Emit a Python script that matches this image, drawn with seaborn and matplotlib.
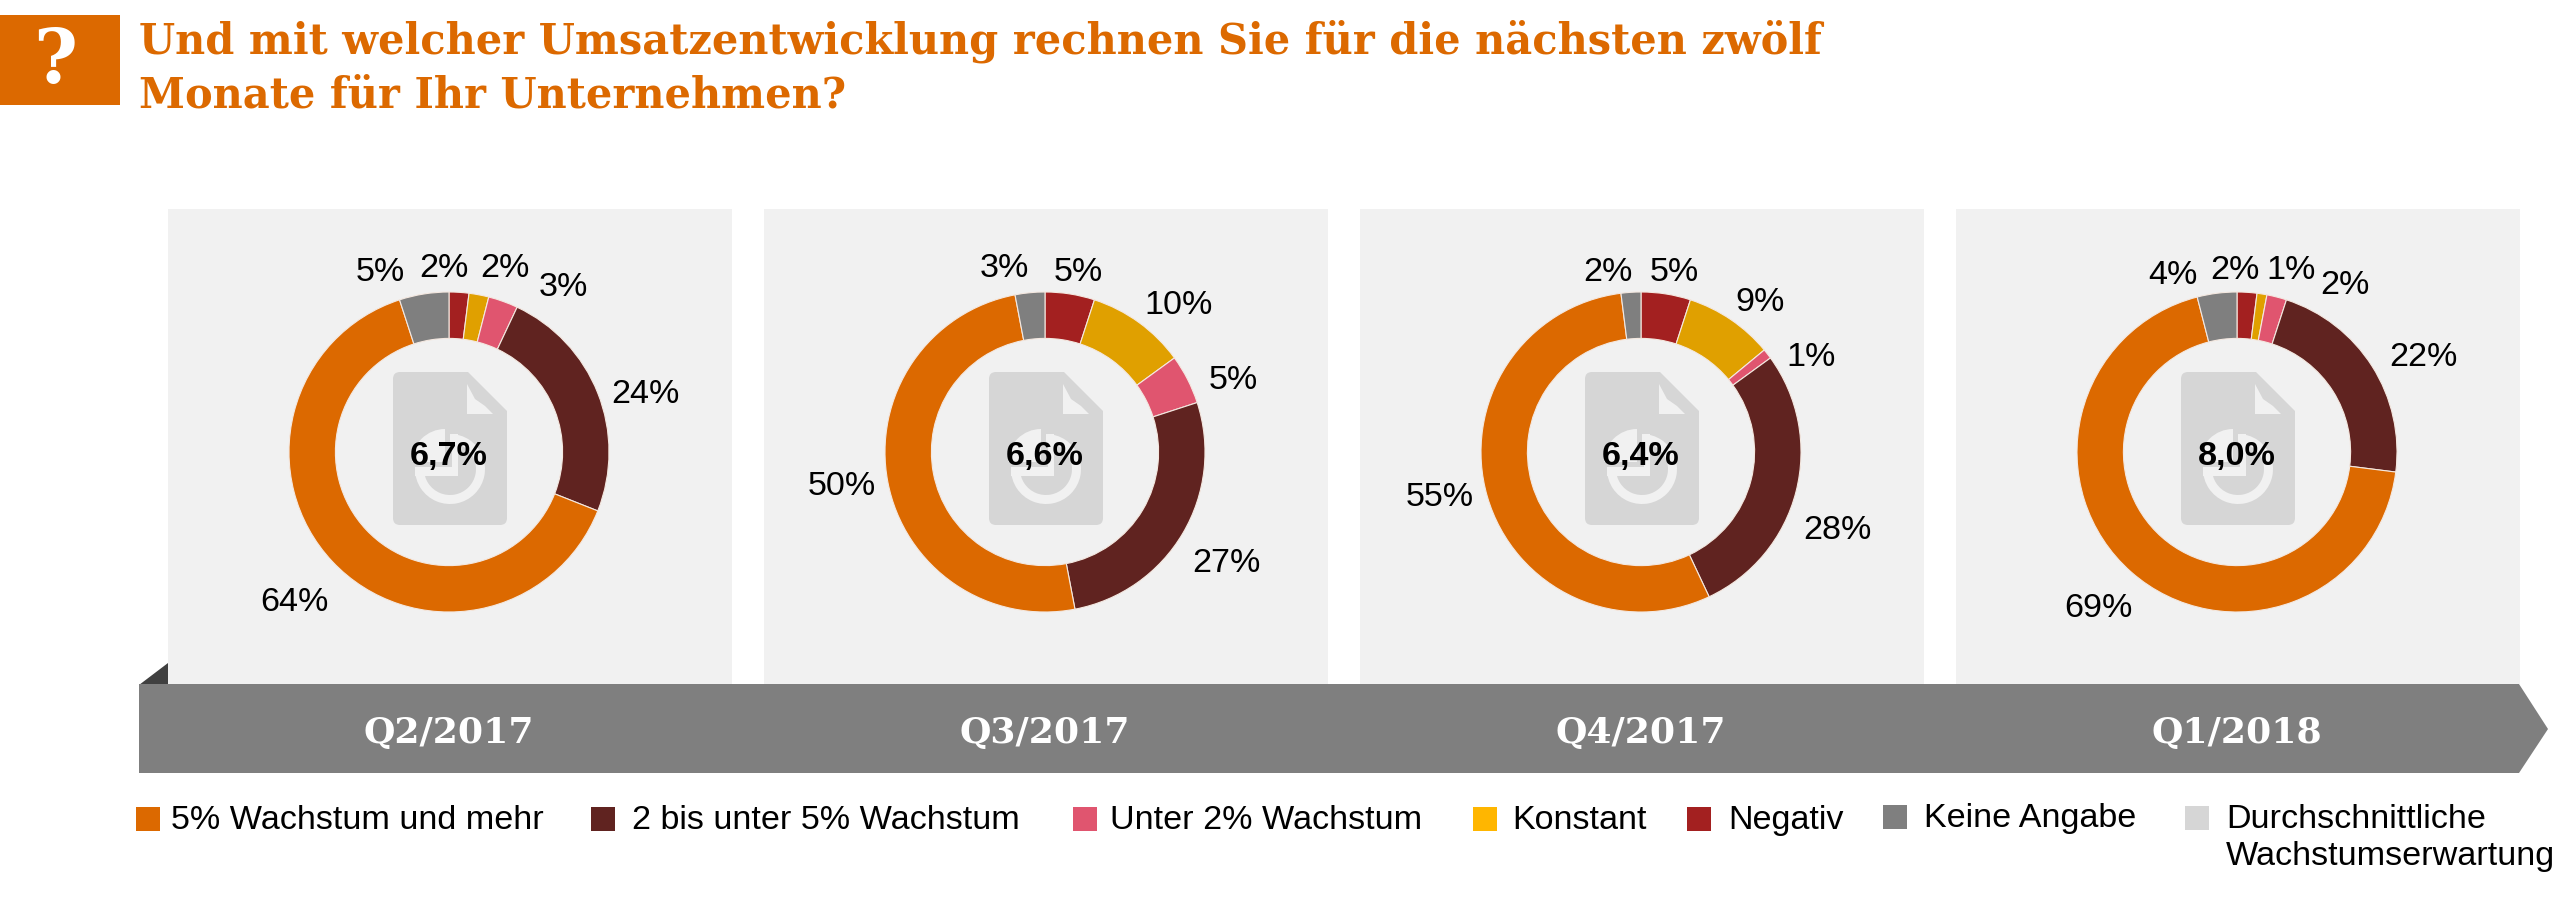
import matplotlib
matplotlib.use('Agg')
import matplotlib.pyplot as plt
import seaborn as sns
from matplotlib.patches import Polygon, Rectangle, Wedge, FancyBboxPatch

categories = ['Negativ', 'Konstant', 'Unter 2% Wachstum', '2 bis unter 5% Wachstum',
              '5% Wachstum und mehr', 'Keine Angabe']
q2_2017 = [2, 2, 3, 24, 64, 5]
q3_2017 = [5, 10, 5, 27, 50, 3]
q4_2017 = [5, 9, 1, 28, 55, 2]
q1_2018 = [2, 1, 2, 22, 69, 4]
quarters = ['Q2/2017', 'Q3/2017', 'Q4/2017', 'Q1/2018']
averages = ['6,7%', '6,6%', '6,4%', '8,0%']
legend_labels = ['5% Wachstum und mehr', '2 bis unter 5% Wachstum', 'Unter 2% Wachstum', 'Konstant',
                 'Negativ', 'Keine Angabe', 'Durchschnittliche\nWachstumserwartung']

sns.set_theme(style='white')
plt.rcParams['font.family'] = ['Liberation Sans', 'DejaVu Sans']

ORANGE = '#DC6900'
pie_colors = sns.color_palette(['#A32020', '#E0A000', '#E0556F', '#602320', ORANGE, '#7F7F7F'])
legend_colors = [ORANGE, '#602320', '#E0556F', '#FFB600', '#A32020', '#7F7F7F', '#D6D6D6']
PANEL = '#F1F1F1'
DOC = '#D6D6D6'

W, H = 2560, 904
fig = plt.figure(figsize=(W / 100, H / 100), dpi=100, facecolor='white')
bg = fig.add_axes([0, 0, 1, 1])
bg.set_xlim(0, W)
bg.set_ylim(H, 0)
bg.axis('off')

# header
bg.add_patch(Rectangle((0, 16), 120, 90, color=ORANGE, lw=0))
bg.text(55, 62, '?', color='white', fontsize=54, fontweight='bold', family='DejaVu Serif',
        ha='center', va='center')
bg.text(139, 41, 'Und mit welcher Umsatzentwicklung rechnen Sie für die nächsten zwölf',
        color=ORANGE, fontsize=29.9, fontweight='bold', family='DejaVu Serif', va='center')
bg.text(139, 95, 'Monate für Ihr Unternehmen?',
        color=ORANGE, fontsize=29.9, fontweight='bold', family='DejaVu Serif', va='center')

# timeline arrow
bg.add_patch(Polygon([(139, 686), (168, 664), (168, 686)], color='#404040', lw=0, zorder=1))
bg.add_patch(Polygon([(139, 685), (2519, 685), (2548, 730), (2519, 774), (139, 774)],
                     color='#7F7F7F', lw=0, zorder=3))

panel_left = [168, 764, 1360, 1956]
centers = [449, 1045, 1641, 2237]
cy = 453
R = 160


def draw_icon(cx):
    bg.add_patch(FancyBboxPatch((cx - 56, cy - 80), 114, 153, boxstyle='round,pad=0,rounding_size=7',
                                color=DOC, lw=0, zorder=2))
    bg.add_patch(Polygon([(cx + 18, cy - 81), (cx + 60, cy - 81), (cx + 60, cy - 39)], color=PANEL, lw=0, zorder=2))
    bg.add_patch(Polygon([(cx + 18, cy - 68), (cx + 26, cy - 53), (cx + 36, cy - 46), (cx + 44, cy - 38),
                          (cx + 18, cy - 38)], color=PANEL, lw=0, zorder=2))
    # small pie symbol on the page
    bg.add_patch(Wedge((cx + 1, cy + 17), 35, 270, 180, width=9, color=PANEL, lw=0, zorder=2))
    bg.add_patch(Rectangle((cx - 34, cy + 15), 43, 9, color=PANEL, lw=0, zorder=2))
    bg.add_patch(Rectangle((cx + 3, cy - 18), 6, 42, color=PANEL, lw=0, zorder=2))
    bg.add_patch(Wedge((cx - 4, cy + 10), 33, 180, 270, color=PANEL, lw=0, zorder=2))


for left, cx in zip(panel_left, centers):
    bg.add_patch(Rectangle((left, 210), 564, 475, color=PANEL, lw=0, zorder=0))
    draw_icon(cx)

# label offsets from the donut centre in pixels, same order as the wedges
label_offsets = [
    [(-5, -184), (56, -184), (114, -165), (196, -58), (-155, 150), (-69, -180)],
    [(33, -180), (134, -147), (188, -72), (181, 111), (-203, 34), (-41, -184)],
    [(33, -180), (119, -150), (170, -95), (196, 78), (-201, 45), (-33, -180)],
    [(-2, -182), (54, -182), (108, -167), (186, -95), (-139, 156), (-64, -177)],
]

series = [q2_2017, q3_2017, q4_2017, q1_2018]
for values, offsets, cx, quarter, avg in zip(series, label_offsets, centers, quarters, averages):
    ax = fig.add_axes([(cx - R) / W, 1 - (cy + R) / H, 2 * R / W, 2 * R / H])
    ax.patch.set_alpha(0)
    wedges, texts = ax.pie(values, labels=[f'{v}%' for v in values], colors=pie_colors, startangle=90,
                           counterclock=False, radius=1,
                           wedgeprops={'width': 0.29, 'edgecolor': '#F4E8E0', 'linewidth': 0.8},
                           textprops={'fontsize': 24.6, 'color': 'black', 'ha': 'center', 'va': 'center'})
    ax.set_xlim(-1, 1)
    ax.set_ylim(-1, 1)
    for text, (dx, dy) in zip(texts, offsets):
        text.set_position((dx / R, -dy / R))
    ax.text(0, -0.02, avg, fontsize=24.6, fontweight='bold', color='black', ha='center', va='center')
    bg.text(cx, 733, quarter, color='white', fontsize=26, fontweight='bold', family='DejaVu Serif',
            ha='center', va='center', zorder=4)

# legend
square_x = [136, 591, 1073, 1473, 1687, 1883, 2185]
text_x = [171, 632, 1110, 1512, 1728, 1924, 2226]
legend_y = [820, 820, 820, 820, 820, 818, 819]
for label, color, sx, tx, ly in zip(legend_labels, legend_colors, square_x, text_x, legend_y):
    bg.add_patch(Rectangle((sx, ly - 12), 24, 24, color=color, lw=0))
    bg.text(tx, ly - 15, label, fontsize=24.6, color='black', ha='left', va='top', linespacing=1.27)

fig.savefig('out.png', dpi=100)
